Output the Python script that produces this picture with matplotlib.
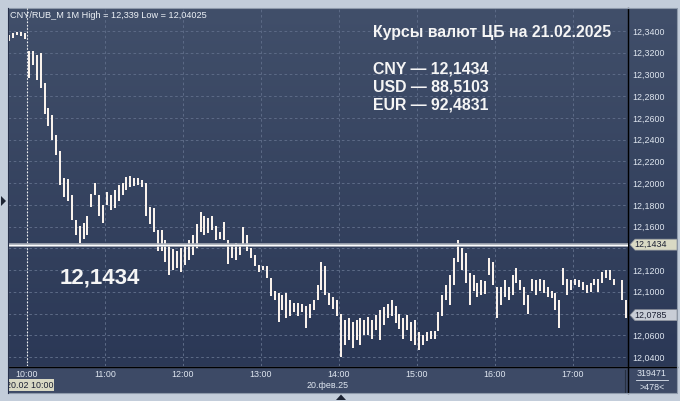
import numpy as np
import matplotlib
matplotlib.use('Agg')
import matplotlib.pyplot as plt
from matplotlib.patches import Rectangle, Polygon

plt.rcParams['font.family'] = ['Liberation Sans', 'DejaVu Sans']

W, H = 680, 401

# --- data: CNY/RUB, 3-minute bars, minutes counted from 10:00 of 20.02.2025 ---
bar_minutes = 3
pre_high = [12.336, 12.338, 12.339, 12.339, 12.338]   # last bars of previous session
pre_low = [12.331, 12.334, 12.336, 12.335, 12.333]

bar_high = [
    12.322, 12.322, 12.318, 12.320, 12.292, 12.269, 12.263, 12.244, 12.230, 12.205,
    12.204, 12.189, 12.166, 12.161, 12.163, 12.170, 12.190, 12.200, 12.189, 12.180,
    12.192, 12.189, 12.194, 12.198, 12.200, 12.206, 12.207, 12.205, 12.205, 12.203,
    12.200, 12.178, 12.177, 12.157, 12.157, 12.148, 12.143, 12.139, 12.138, 12.140,
    12.143, 12.148, 12.152, 12.162, 12.173, 12.170, 12.168, 12.170, 12.161, 12.155,
    12.164, 12.148, 12.143, 12.145, 12.143, 12.160, 12.152, 12.140, 12.134, 12.125,
    12.124, 12.124, 12.113, 12.101, 12.099, 12.097, 12.099, 12.092, 12.090, 12.090,
    12.089, 12.087, 12.089, 12.092, 12.106, 12.127, 12.124, 12.099, 12.095, 12.092,
    12.080, 12.074, 12.076, 12.072, 12.074, 12.076, 12.074, 12.077, 12.074, 12.079,
    12.083, 12.086, 12.089, 12.092, 12.087, 12.080, 12.076, 12.079, 12.072, 12.074,
    12.063, 12.060, 12.063, 12.064, 12.064, 12.081, 12.097, 12.106, 12.115, 12.131,
    12.148, 12.140, 12.136, 12.117, 12.115, 12.108, 12.111, 12.110, 12.131, 12.127,
    12.104, 12.104, 12.111, 12.104, 12.115, 12.122, 12.111, 12.104, 12.097, 12.112,
    12.111, 12.112, 12.111, 12.104, 12.101, 12.099, 12.092, 12.122, 12.112, 12.111,
    12.112, 12.111, 12.109, 12.106, 12.108, 12.112, 12.112, 12.118, 12.120, 12.120,
    12.112, np.nan, 12.111, 12.092,
]
bar_low = [
    12.297, 12.309, 12.295, 12.288, 12.264, 12.253, 12.240, 12.226, 12.198, 12.187,
    12.184, 12.166, 12.152, 12.145, 12.149, 12.152, 12.178, 12.189, 12.170, 12.163,
    12.180, 12.175, 12.177, 12.184, 12.189, 12.194, 12.196, 12.197, 12.198, 12.196,
    12.170, 12.162, 12.155, 12.138, 12.138, 12.127, 12.115, 12.120, 12.122, 12.118,
    12.125, 12.129, 12.134, 12.140, 12.155, 12.152, 12.154, 12.157, 12.148, 12.149,
    12.148, 12.126, 12.131, 12.129, 12.134, 12.142, 12.138, 12.131, 12.124, 12.118,
    12.120, 12.113, 12.096, 12.092, 12.072, 12.083, 12.076, 12.078, 12.081, 12.078,
    12.081, 12.067, 12.076, 12.083, 12.092, 12.102, 12.097, 12.088, 12.084, 12.078,
    12.040, 12.051, 12.056, 12.048, 12.056, 12.051, 12.060, 12.060, 12.057, 12.065,
    12.056, 12.069, 12.076, 12.078, 12.071, 12.066, 12.057, 12.065, 12.055, 12.051,
    12.046, 12.051, 12.055, 12.057, 12.057, 12.064, 12.078, 12.092, 12.088, 12.106,
    12.127, 12.120, 12.108, 12.088, 12.101, 12.095, 12.097, 12.098, 12.115, 12.106,
    12.076, 12.088, 12.095, 12.092, 12.097, 12.108, 12.102, 12.088, 12.080, 12.101,
    12.097, 12.101, 12.099, 12.095, 12.094, 12.083, 12.067, 12.106, 12.097, 12.102,
    12.106, 12.104, 12.102, 12.099, 12.100, 12.106, 12.100, 12.108, 12.113, 12.111,
    12.106, np.nan, 12.092, 12.076,
]

hour_labels = ['10:00', '11:00', '12:00', '13:00', '14:00', '15:00', '16:00', '17:00']
price_levels = [12.04, 12.06, 12.08, 12.10, 12.12, 12.14, 12.16, 12.18, 12.20,
                12.22, 12.24, 12.26, 12.28, 12.30, 12.32, 12.34]
cb_rate = 12.1434
last_close = 12.0785
header = 'CNY/RUB_M 1M High = 12,339 Low = 12,04025'
rates_title = 'Курсы валют ЦБ на 21.02.2025'
rates = ['CNY — 12,1434', 'USD — 88,5103', 'EUR — 92,4831']

# --- colours ---
FRAME = '#c3cdda'
BG_TOP = np.array([65, 79, 106]) / 255
BG_BOT = np.array([43, 56, 86]) / 255
PANEL = '#3d4a66'
GRID = '#5b6985'
TXT = '#dfe6f0'
BAR = '#fff7f0'
TAG_CB = '#d9d9c4'
TAG_LAST = '#c8cdd6'
SMALL = 6.4


def fmt_price(v):
    return f'{v:.4f}'.replace('.', ',')


fig = plt.figure(figsize=(W / 100, H / 100), dpi=100, facecolor=FRAME)

# background layer in pixel coordinates
bg = fig.add_axes([0, 0, 1, 1], zorder=0)
bg.set_xlim(0, W)
bg.set_ylim(H, 0)
bg.axis('off')
grad = np.linspace(0, 1, 256)[:, None, None] * (BG_BOT - BG_TOP) + BG_TOP
grad = np.repeat(grad, 2, axis=1)
bg.imshow(grad, extent=(8, 677, 366, 8), aspect='auto', interpolation='bilinear', zorder=1)
bg.add_patch(Rectangle((8, 366), 669, 27, facecolor=PANEL, edgecolor='none', zorder=1))
bg.plot([628, 628], [8, 393], color='black', lw=1.0, zorder=3)
bg.plot([8, 677], [366.5, 366.5], color='black', lw=1.0, zorder=3)
bg.plot([625, 625], [370, 392], color='#262f40', lw=0.8, zorder=3)
bg.plot([8, 677, 677, 8, 8], [8, 8, 393, 393, 8], color='#8e9aab', lw=0.8, zorder=3)

# main chart
ax = fig.add_axes([8 / W, 1 - 366 / H, 620 / W, 358 / H], zorder=1)
ax.set_facecolor('none')
for s in ax.spines.values():
    s.set_visible(False)
ax.set_xlim(-14.6, 462.3)
ax.set_ylim(12.0317, 12.3612)

hours_min = [60 * k for k in range(len(hour_labels))]
ax.set_xticks(hours_min)
ax.set_xticklabels(hour_labels)
ax.set_yticks(price_levels)
ax.set_yticklabels(['' if min(abs(v - cb_rate), abs(v - last_close)) < 0.005 else fmt_price(v)
                    for v in price_levels])
ax.yaxis.tick_right()
ax.tick_params(axis='y', length=0, pad=3, labelsize=SMALL, labelcolor=TXT)
ax.tick_params(axis='x', length=0, pad=3, labelsize=SMALL, labelcolor=TXT)
ax.grid(True, color=GRID, linestyle=(0, (2.5, 2.5)), linewidth=0.75)
ax.axvline(0, color='#f0f0f0', linestyle=(0, (1.5, 1.5)), linewidth=0.8, zorder=2)

# bars
t_pre = (np.arange(len(pre_high)) - len(pre_high)) * bar_minutes + bar_minutes / 2
t_bar = np.arange(len(bar_high)) * bar_minutes + bar_minutes / 2
t_all = np.concatenate([t_pre, t_bar])
hi = np.concatenate([pre_high, bar_high])
lo = np.concatenate([pre_low, bar_low])
ok = ~np.isnan(hi)
ax.vlines(t_all[ok], lo[ok], hi[ok], color=BAR, linewidth=1.4, zorder=3)

# CB rate line
ax.axhline(cb_rate, color='#a9aeb8', linewidth=2.6, zorder=4)
ax.axhline(cb_rate, color='white', linewidth=0.9, zorder=5)

# overlay layer
top = fig.add_axes([0, 0, 1, 1], zorder=3)
top.set_xlim(0, W)
top.set_ylim(H, 0)
top.axis('off')
top.patch.set_alpha(0)


def price_to_px(v):
    return H - ax.transData.transform((0, v))[1]


def price_tag(v, color):
    y = price_to_px(v)
    top.add_patch(Polygon([(630, y), (635, y - 5.5), (677, y - 5.5), (677, y + 5.5), (635, y + 5.5)],
                          closed=True, facecolor=color, edgecolor='#8a8f99', lw=0.5, zorder=5))
    top.text(634.5, y, fmt_price(v), fontsize=SMALL, color='#1b2033', va='center', ha='left', zorder=6)


price_tag(cb_rate, TAG_CB)
price_tag(last_close, TAG_LAST)

top.text(10, 15, header, fontsize=6.6, color='#eef2f7', va='center', ha='left')

big = dict(color='#f5f5f5', fontweight='bold', va='center', ha='left')
top.text(373, 32, rates_title, fontsize=11.4, **big)
for k, line in enumerate(rates):
    top.text(373, 69 + 18 * k, line, fontsize=11.4, **big)
top.text(60, 278, fmt_price(cb_rate), fontsize=16, **big)

# bottom panel details
top.add_patch(Rectangle((8, 379), 46, 12, facecolor=TAG_CB, edgecolor='none', zorder=4))
top.text(53, 385.5, '20.02 10:00', fontsize=SMALL, color='#1b2033', va='center', ha='right', zorder=5)
top.text(328, 385.5, '20.фев.25', fontsize=SMALL, color=TXT, va='center', ha='center')
top.text(652, 374, '319471', fontsize=SMALL, color=TXT, va='center', ha='center')
top.plot([636, 668], [380, 380], color=TXT, lw=0.6)
top.text(652, 387, '>478<', fontsize=SMALL, color=TXT, va='center', ha='center')

# frame strips and markers
top.add_patch(Rectangle((0, 0), 7.6, H, facecolor=FRAME, edgecolor='none', zorder=8))
top.plot([7.8, 7.8], [8, 393], color='#26304a', lw=0.8, zorder=9)
top.add_patch(Polygon([(1, 196), (1, 206), (6, 201)], closed=True, facecolor='#1d2433', zorder=9))
top.add_patch(Polygon([(336, 400), (346, 400), (341, 394.5)], closed=True, facecolor='#1d2433', zorder=9))

fig.savefig('out.png', dpi=100, facecolor=FRAME)
